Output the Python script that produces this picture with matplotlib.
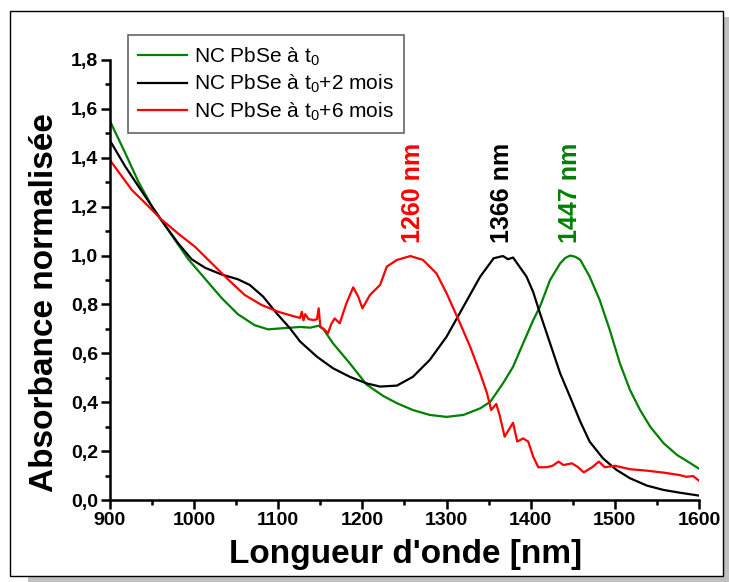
import matplotlib
matplotlib.use('Agg')
import matplotlib.pyplot as plt
from matplotlib.patches import Rectangle
from matplotlib.ticker import MultipleLocator, FuncFormatter

plt.rcParams['font.family'] = ['Liberation Sans', 'DejaVu Sans']
plt.rcParams['mathtext.default'] = 'regular'

# NC PbSe a t0 (green)
wl_t0 = [900, 918, 934, 950, 961, 977, 993, 1013, 1033, 1052, 1072, 1088, 1106, 1126,
         1138, 1148, 1154, 1165, 1185, 1205, 1225, 1241, 1260, 1280, 1300, 1320, 1340,
         1352, 1367, 1379, 1391, 1403, 1411, 1423, 1435, 1441, 1447, 1453, 1459, 1470,
         1482, 1494, 1506, 1518, 1530, 1542, 1558, 1574, 1590, 1600]
abs_t0 = [1.55, 1.42, 1.30, 1.20, 1.145, 1.065, 0.985, 0.905, 0.825, 0.760, 0.715, 0.698,
          0.703, 0.708, 0.705, 0.713, 0.697, 0.641, 0.559, 0.472, 0.425, 0.396, 0.368,
          0.348, 0.340, 0.348, 0.375, 0.402, 0.477, 0.545, 0.641, 0.736, 0.791, 0.900,
          0.968, 0.990, 1.000, 0.995, 0.982, 0.914, 0.818, 0.695, 0.559, 0.450, 0.368,
          0.300, 0.232, 0.184, 0.150, 0.128]

# NC PbSe a t0+2 mois (black)
wl_t2 = [900, 918, 934, 950, 961, 981, 997, 1013, 1033, 1052, 1066, 1082, 1098, 1114,
         1126, 1146, 1165, 1185, 1205, 1221, 1241, 1260, 1280, 1300, 1320, 1340, 1356,
         1367, 1373, 1379, 1395, 1403, 1411, 1423, 1435, 1447, 1459, 1470, 1486, 1502,
         1518, 1538, 1558, 1577, 1600]
abs_t2 = [1.47, 1.365, 1.282, 1.20, 1.145, 1.050, 0.985, 0.950, 0.922, 0.903, 0.880, 0.832,
          0.764, 0.702, 0.648, 0.586, 0.539, 0.504, 0.477, 0.464, 0.468, 0.504, 0.573,
          0.668, 0.791, 0.914, 0.989, 0.998, 0.985, 0.992, 0.914, 0.850, 0.764, 0.641,
          0.518, 0.420, 0.320, 0.239, 0.170, 0.123, 0.089, 0.059, 0.041, 0.030, 0.018]

# NC PbSe a t0+6 mois (red)
wl_t6 = [900, 910, 926, 942, 961, 981, 1001, 1021, 1041, 1060, 1080, 1100, 1120, 1126,
         1128, 1130, 1132, 1136, 1142, 1146, 1148, 1150, 1154, 1159, 1163, 1167, 1173,
         1181, 1189, 1195, 1200, 1209, 1221, 1229, 1241, 1257, 1272, 1288, 1300, 1316,
         1328, 1340, 1348, 1353, 1359, 1363, 1369, 1379, 1384, 1391, 1397, 1403, 1409,
         1419, 1426, 1433, 1439, 1449, 1456, 1463, 1473, 1481, 1488, 1500, 1518, 1538,
         1558, 1577, 1585, 1593, 1600]
abs_t6 = [1.39, 1.343, 1.268, 1.214, 1.148, 1.09, 1.036, 0.968, 0.900, 0.839, 0.798, 0.770,
          0.750, 0.745, 0.770, 0.735, 0.760, 0.740, 0.736, 0.740, 0.784, 0.709, 0.700,
          0.682, 0.720, 0.743, 0.723, 0.805, 0.870, 0.832, 0.784, 0.839, 0.880, 0.955,
          0.982, 0.998, 0.982, 0.927, 0.846, 0.723, 0.627, 0.518, 0.437, 0.368, 0.393,
          0.348, 0.259, 0.316, 0.239, 0.252, 0.239, 0.177, 0.134, 0.134, 0.140, 0.157,
          0.143, 0.150, 0.135, 0.113, 0.134, 0.157, 0.134, 0.140, 0.126, 0.120, 0.112,
          0.102, 0.095, 0.098, 0.079]

peaks = [1260, 1366, 1447]
peak_labels = ['1260 nm', '1366 nm', '1447 nm']
peak_colors = ['red', 'black', 'green']

fig = plt.figure(figsize=(7.29, 5.82), dpi=100)

# Origin-style frame with shadow
fig.add_artist(Rectangle((28/729, 0), 1 - 28/729, 1 - 17/582, transform=fig.transFigure,
                         facecolor='#c0c0c0', edgecolor='none', zorder=-10))
fig.add_artist(Rectangle((10/729, 1 - 576/582), 713/729, 565/582, transform=fig.transFigure,
                         facecolor='white', edgecolor='black', lw=1.0, zorder=-9))

ax = fig.add_axes([110/729, 1 - 500/582, 589/729, 440/582])
ax.patch.set_visible(False)

ax.plot(wl_t0, abs_t0, color='#008000', lw=1.6, label='NC PbSe à t$_{0}$')
ax.plot(wl_t2, abs_t2, color='black', lw=1.6, label='NC PbSe à t$_{0}$+2 mois')
ax.plot(wl_t6, abs_t6, color='red', lw=1.6, label='NC PbSe à t$_{0}$+6 mois')

for p, lab, c in zip(peaks, peak_labels, peak_colors):
    ax.text(p, 1.05, lab, rotation=90, ha='center', va='bottom', color=c,
            fontsize=18, fontweight='bold')

ax.set_xlim(900, 1600)
ax.set_ylim(0, 1.8)
ax.xaxis.set_major_locator(MultipleLocator(100))
ax.xaxis.set_minor_locator(MultipleLocator(50))
ax.yaxis.set_major_locator(MultipleLocator(0.2))
ax.yaxis.set_minor_locator(MultipleLocator(0.1))
ax.yaxis.set_major_formatter(FuncFormatter(lambda v, p: f'{v:.1f}'.replace('.', ',')))

for s in ['top', 'right']:
    ax.spines[s].set_visible(False)
for s in ['left', 'bottom']:
    ax.spines[s].set_linewidth(1.8)

ax.tick_params(which='major', direction='out', length=6.5, width=1.8, pad=2)
ax.tick_params(which='minor', direction='out', length=3.5, width=1.8)
for lab in ax.get_xticklabels() + ax.get_yticklabels():
    lab.set_family(['Liberation Sans Narrow', 'Liberation Sans'])
    lab.set_fontweight('bold')
    lab.set_fontsize(14)

ax.set_xlabel('Longueur d\'onde [nm]', fontsize=24, fontweight='bold')
ax.set_ylabel('Absorbance normalisée', fontsize=24, fontweight='bold')
ax.xaxis.label.set_va('center')
ax.yaxis.label.set_va('center')
ax.xaxis.set_label_coords(0.502, -0.123)
ax.yaxis.set_label_coords(-0.112, 0.449)

leg = ax.legend(loc='upper left', bbox_to_anchor=(0.0306, 1.057), borderaxespad=0,
                fontsize=15, frameon=True, fancybox=False, handlelength=2.35,
                handletextpad=0.3, labelspacing=0.25, borderpad=0.5)
leg.get_frame().set_edgecolor('#404040')
leg.get_frame().set_linewidth(1.2)

fig.savefig('out.png', dpi=100)
